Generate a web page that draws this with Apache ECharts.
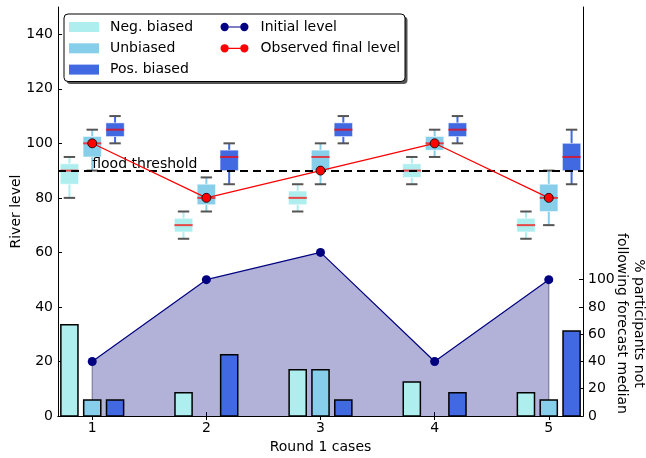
<!DOCTYPE html>
<html>
<head>
<meta charset="utf-8">
<script src="https://cdn.jsdelivr.net/npm/echarts@6/dist/echarts.min.js"></script>
<style>html,body{margin:0;padding:0;background:#fff;}#chart{width:646px;height:458px;}</style>
</head>
<body>
<div id="chart"></div>
<script>
// ---- data ----
const cases = [1, 2, 3, 4, 5];
const caseLabels = ['1', '2', '3', '4', '5'];
// % participants not following forecast median (right axis)
const negBiasedPct = [67, 17, 34, 25, 17];
const unbiasedPct = [11.7, 0, 34, 0, 11.7];
const posBiasedPct = [11.7, 45, 11.7, 17, 62.3];
// forecast distributions [min, q1, median, q3, max] (left axis)
const negBiasedBox = [[80, 85, 90, 92.5, 95], [65, 67.5, 70, 72.5, 75], [75, 77.5, 80, 82.5, 85], [85, 87.5, 90, 92.5, 95], [65, 67.5, 70, 72.5, 75]];
const unbiasedBox = [[90, 95, 100, 102.5, 105], [75, 77.5, 80, 85, 87.5], [85, 90, 95, 97.5, 100], [95, 97.5, 100, 102.5, 105], [70, 75, 80, 85, 90]];
const posBiasedBox = [[100, 102.5, 105, 107.5, 110], [85, 90, 95, 97.5, 100], [100, 102.5, 105, 107.5, 110], [100, 102.5, 105, 107.5, 110], [85, 90, 95, 100, 105]];
const initialLevel = [20, 50, 60, 20, 50];
const observedFinalLevel = [100, 80, 90, 100, 80];
const floodThreshold = [90];
const floodLabel = ['flood threshold'];
const riverLevelTicks = [0, 20, 40, 60, 80, 100, 120, 140];
const pctTicks = [0, 20, 40, 60, 80, 100];

// ---- styling ----
const FONT = 'DejaVu Sans';
const NEG = '#AFEEEE', UNB = '#87CEEB', POS = '#4169E1';
const OFF = { neg: -0.2, unb: 0, pos: 0.2 };
const BAR_W = 0.15, BOX_W = 0.16, CAP_W = 0.1;

function barRender(color) {
  return function (params, api) {
    const x = api.value(0), v = api.value(1);
    if (!v) return null;
    const p0 = api.coord([x, 0]);
    const p1 = api.coord([x, v]);
    const w = api.size([BAR_W, 0])[0];
    return { type: 'rect', shape: { x: p0[0] - w / 2, y: p1[1], width: w, height: p0[1] - p1[1] },
      style: { fill: color, stroke: '#000', lineWidth: 1.5 } };
  };
}
function boxRender(color) {
  return function (params, api) {
    const x = api.value(0);
    const lo = api.coord([x, api.value(1)]);
    const q1 = api.coord([x, api.value(2)]);
    const md = api.coord([x, api.value(3)]);
    const q3 = api.coord([x, api.value(4)]);
    const hi = api.coord([x, api.value(5)]);
    const hb = api.size([BOX_W, 0])[0] / 2;
    const hc = api.size([CAP_W, 0])[0] / 2;
    const cx = lo[0];
    const wStyle = { stroke: color, lineWidth: 2 };
    const cStyle = { stroke: '#555', lineWidth: 2 };
    return { type: 'group', children: [
      { type: 'line', shape: { x1: cx, y1: hi[1], x2: cx, y2: q3[1] }, style: wStyle },
      { type: 'line', shape: { x1: cx, y1: q1[1], x2: cx, y2: lo[1] }, style: wStyle },
      { type: 'rect', shape: { x: cx - hb, y: q3[1], width: 2 * hb, height: q1[1] - q3[1] },
        style: { fill: color, stroke: 'rgba(255,255,255,0.45)', lineWidth: 1 } },
      { type: 'line', shape: { x1: cx - hb, y1: md[1], x2: cx + hb, y2: md[1] }, style: { stroke: 'rgba(255,0,0,0.7)', lineWidth: 2 } },
      { type: 'line', shape: { x1: cx - hc, y1: hi[1], x2: cx + hc, y2: hi[1] }, style: cStyle },
      { type: 'line', shape: { x1: cx - hc, y1: lo[1], x2: cx + hc, y2: lo[1] }, style: cStyle }
    ] };
  };
}
function barSeries(name, vals, off, color) {
  return { name: name, type: 'custom', xAxisIndex: 0, yAxisIndex: 1, z: 2,
    itemStyle: { color: color }, renderItem: barRender(color),
    encode: { x: 0, y: 1 },
    data: cases.map((c, i) => [c + off, vals[i]]) };
}
function boxSeries(name, boxes, off, color) {
  return { name: name, type: 'custom', xAxisIndex: 0, yAxisIndex: 0, z: 3,
    itemStyle: { color: color }, renderItem: boxRender(color),
    encode: { x: 0, y: [1, 2, 3, 4, 5] },
    data: cases.map((c, i) => [c + off].concat(boxes[i])) };
}
const initPts = cases.map((c, i) => [c, initialLevel[i]]);
const finalPts = cases.map((c, i) => [c, observedFinalLevel[i]]);

const lineIcon = 'path://M0.5,5A4,4 0 1,1 8.5,5A4,4 0 1,1 0.5,5Z M19.5,5A4,4 0 1,1 27.5,5A4,4 0 1,1 19.5,5Z M8.5,4.4L19.5,4.4L19.5,5.6L8.5,5.6Z';

const axisLineStyle = { show: true, lineStyle: { color: '#000', width: 1 } };
const option = {
  animation: false,
  textStyle: { fontFamily: FONT },
  grid: { left: 58, right: 63, top: 7, bottom: 42, containLabel: false, outerBoundsMode: 'none' },
  xAxis: [
    { type: 'value', min: 0.7, max: 5.3, position: 'bottom',
      axisLine: axisLineStyle, splitLine: { show: false },
      axisTick: { show: true, inside: true, length: 4, customValues: cases, lineStyle: { color: '#000' } },
      axisLabel: { customValues: cases, formatter: v => caseLabels[cases.indexOf(v)], fontSize: 14, color: '#000', margin: 5, fontFamily: FONT },
      name: 'Round 1 cases', nameLocation: 'middle', nameGap: 24, nameMoveOverlap: false,
      nameTextStyle: { fontSize: 14, color: '#000', fontFamily: FONT } },
    { type: 'value', min: 0.7, max: 5.3, position: 'top',
      axisLine: axisLineStyle, splitLine: { show: false },
      axisTick: { show: true, inside: true, length: 4, customValues: cases, lineStyle: { color: '#000' } },
      axisLabel: { show: false } }
  ],
  yAxis: [
    { type: 'value', min: 0, max: 150, position: 'left',
      axisLine: axisLineStyle, splitLine: { show: false },
      axisTick: { show: true, inside: true, length: 4, customValues: riverLevelTicks, lineStyle: { color: '#000' } },
      axisLabel: { customValues: riverLevelTicks, fontSize: 14, color: '#000', margin: 5, fontFamily: FONT },
      name: 'River level', nameLocation: 'middle', nameGap: 35, nameMoveOverlap: false,
      nameTextStyle: { fontSize: 14, color: '#000', fontFamily: FONT } },
    { type: 'value', min: 0, max: 300, position: 'right',
      axisLine: axisLineStyle, splitLine: { show: false },
      axisTick: { show: true, inside: true, length: 4, customValues: pctTicks, lineStyle: { color: '#000' } },
      axisLabel: { customValues: pctTicks, fontSize: 14, color: '#000', margin: 5, fontFamily: FONT } }
  ],
  legend: [
    { left: 69, top: 19, orient: 'vertical', padding: 0, itemGap: 5.3, itemWidth: 30, itemHeight: 10,
      selectedMode: false, z: 20,
      itemStyle: { borderWidth: 0 },
      textStyle: { fontSize: 14, color: '#000', fontFamily: FONT, lineHeight: 16, padding: [0, 0, 0, 6] },
      data: [{ name: 'Neg. biased', icon: 'rect' }, { name: 'Unbiased', icon: 'rect' }, { name: 'Pos. biased', icon: 'rect' }] },
    { left: 220.5, top: 19, orient: 'vertical', padding: 0, itemGap: 5.3, itemWidth: 28, itemHeight: 10,
      selectedMode: false, z: 20,
      itemStyle: { borderWidth: 0 },
      textStyle: { fontSize: 14, color: '#000', fontFamily: FONT, lineHeight: 16, padding: [0, 0, 0, 7] },
      data: [{ name: 'Initial level', icon: lineIcon }, { name: 'Observed final level', icon: lineIcon }] }
  ],
  graphic: [
    { type: 'rect', z: 14, shape: { x: 66.5, y: 16.5, width: 341, height: 67.5, r: 4 }, style: { fill: '#555' } },
    { type: 'rect', z: 15, shape: { x: 64, y: 14, width: 341, height: 67.5, r: 4 }, style: { fill: '#fff', stroke: '#000', lineWidth: 1 } },
    { type: 'text', z: 15, x: 630.5, y: 323.5, rotation: -Math.PI / 2,
      style: { text: '% participants not\nfollowing forecast median', fontSize: 14, fontFamily: FONT, fill: '#000',
        align: 'center', verticalAlign: 'middle', lineHeight: 17 } }
  ],
  series: [
    { name: 'initial-fill', type: 'line', xAxisIndex: 0, yAxisIndex: 0, z: 1, data: initPts,
      showSymbol: false, symbol: 'none', lineStyle: { width: 0 },
      areaStyle: { color: 'rgba(0,0,128,0.3)', origin: 'start', opacity: 1 } },
    { name: 'initial-edge', type: 'custom', xAxisIndex: 0, yAxisIndex: 0, z: 1,
      encode: { x: 0, y: 1 }, data: initPts,
      renderItem: function (params, api) {
        if (params.dataIndex !== 0 && params.dataIndex !== initPts.length - 1) return null;
        const a = api.coord([api.value(0), 0]);
        const b = api.coord([api.value(0), api.value(1)]);
        return { type: 'line', shape: { x1: a[0], y1: a[1], x2: b[0], y2: b[1] }, style: { stroke: 'rgba(40,40,90,0.4)', lineWidth: 1.5 } };
      } },
    barSeries('Neg. biased', negBiasedPct, OFF.neg, NEG),
    barSeries('Unbiased', unbiasedPct, OFF.unb, UNB),
    barSeries('Pos. biased', posBiasedPct, OFF.pos, POS),
    boxSeries('Neg. biased', negBiasedBox, OFF.neg, NEG),
    boxSeries('Unbiased', unbiasedBox, OFF.unb, UNB),
    boxSeries('Pos. biased', posBiasedBox, OFF.pos, POS),
    { name: 'flood', type: 'custom', xAxisIndex: 0, yAxisIndex: 0, z: 4,
      encode: { x: 0, y: 1 }, data: [[cases[0], floodThreshold[0]]],
      renderItem: function (params, api) {
        const p = api.coord([api.value(0), api.value(1)]);
        return { type: 'text', x: p[0], y: p[1] + 1, style: { text: floodLabel[0], fontSize: 14, fontFamily: FONT, fill: '#000', align: 'left', verticalAlign: 'bottom' } };
      },
      markLine: { silent: true, symbol: ['none', 'none'], label: { show: false },
        lineStyle: { color: '#000', width: 2.2, type: [8, 5] },
        data: [{ yAxis: floodThreshold[0] }] } },
    { name: 'Initial level', type: 'line', xAxisIndex: 0, yAxisIndex: 0, z: 5, data: initPts,
      symbol: 'circle', symbolSize: 9, color: '#000080',
      lineStyle: { color: '#000080', width: 1.2 }, itemStyle: { color: '#000080' } },
    { name: 'Observed final level', type: 'line', xAxisIndex: 0, yAxisIndex: 0, z: 6, data: finalPts,
      symbol: 'circle', symbolSize: 9, color: '#ff0000',
      lineStyle: { color: '#ff0000', width: 1.2 }, itemStyle: { color: '#ff0000', borderColor: '#000', borderWidth: 0.8 } }
  ]
};
const chart = echarts.init(document.getElementById('chart'), null, { renderer: 'canvas' });
chart.setOption(option);
</script>
</body>
</html>
